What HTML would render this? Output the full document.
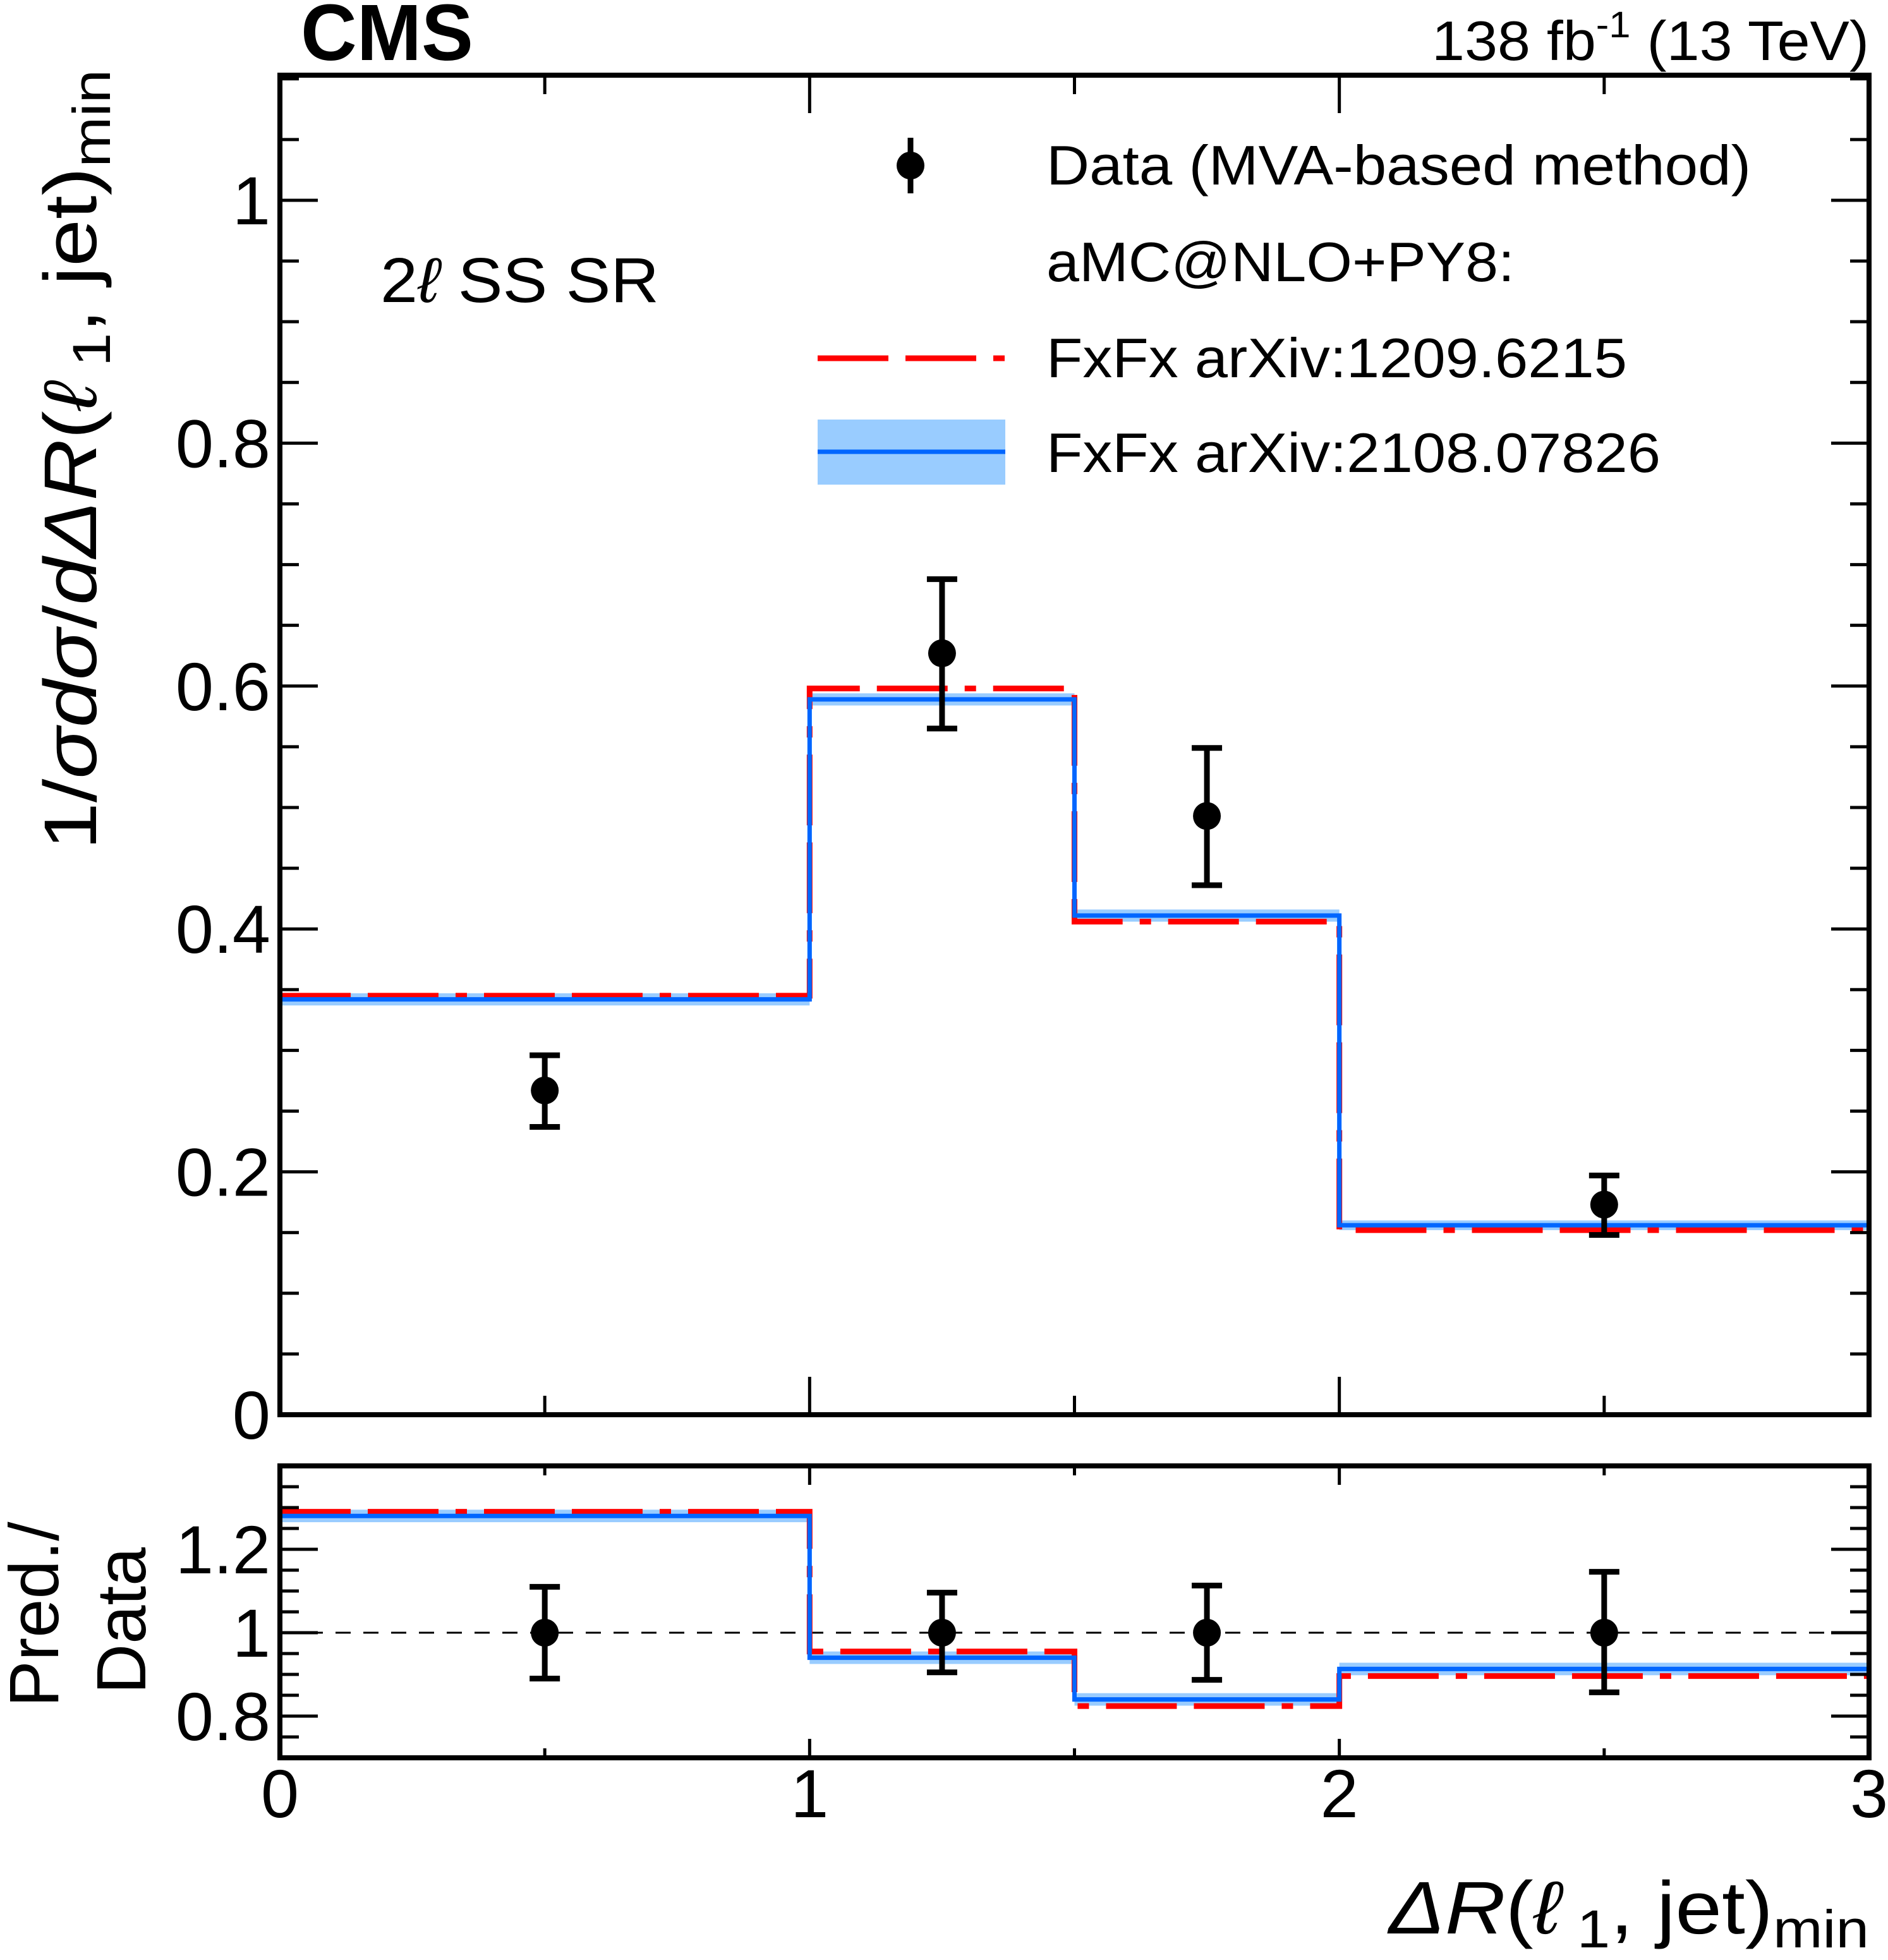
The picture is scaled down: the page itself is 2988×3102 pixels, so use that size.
<!DOCTYPE html>
<html><head><meta charset="utf-8">
<style>
html,body{margin:0;padding:0;background:#fff;}
svg{display:block;}
text{font-family:"Liberation Sans",Arial,sans-serif;fill:#000;}
</style></head>
<body>
<svg id="chart" width="2988" height="3102" viewBox="0 0 2988 3102" xmlns="http://www.w3.org/2000/svg">
<g id="plot"></g>
</svg>
<script>
// ---- data ----
const binEdges = [0, 1, 1.5, 2, 3];
const dataValues = [0.267, 0.627, 0.493, 0.173];
const dataErrUp = [0.029, 0.061, 0.056, 0.024];
const dataErrDown = [0.030, 0.062, 0.057, 0.025];
const redValues = [0.345, 0.598, 0.406, 0.152];
const blueValues = [0.342, 0.589, 0.411, 0.156];
const blueBand = [0.005, 0.005, 0.005, 0.004];
const ratioErrUp = [0.11, 0.096, 0.113, 0.146];
const ratioErrDown = [0.11, 0.095, 0.113, 0.143];
const redRatio = [1.29, 0.955, 0.824, 0.896];
const blueRatio = [1.28, 0.94, 0.84, 0.913];
const blueRatioBand = [0.015, 0.015, 0.015, 0.015];
const xTickLabels = ["0", "1", "2", "3"];
const yTickLabels = ["0", "0.2", "0.4", "0.6", "0.8", "1"];
const rTickLabels = ["0.8", "1", "1.2"];

// ---- geometry ----
const L = 443, R = 2958;
const MT = 119, MB = 2239, RT = 2320, RB = 2782;
const yMax = 1.103, rMin = 0.7, rMax = 1.4;
const NS = "http://www.w3.org/2000/svg";
const g = document.getElementById('plot');
function X(v){ return L + (R - L) * v / 3; }
function Y(v){ return MB - (MB - MT) * v / yMax; }
function YR(v){ return RB - (RB - RT) * (v - rMin) / (rMax - rMin); }
function mk(tag, attrs, parent){
  const e = document.createElementNS(NS, tag);
  for (const k in attrs) e.setAttribute(k, attrs[k]);
  (parent || g).appendChild(e);
  return e;
}
function stepPath(vals, yf){
  let d = '';
  for (let i = 0; i < vals.length; i++){
    const y = yf(vals[i]);
    d += (i === 0 ? 'M' : 'L') + X(binEdges[i]) + ',' + y + 'L' + X(binEdges[i+1]) + ',' + y;
  }
  return d;
}
const redDash = "112,27,112,27,18,27";

function drawPanel(yf, vals, red, blue, band, errU, errD, isRatio){
  for (let i = 0; i < blue.length; i++){
    const r = mk('rect', {x: X(binEdges[i]), y: yf(blue[i] + band[i]), width: X(binEdges[i+1]) - X(binEdges[i]), height: Math.max(8, yf(blue[i] - band[i]) - yf(blue[i] + band[i])), fill: '#99ccff'});
    
    
  }
  const rp = mk('path', {d: stepPath(red, yf), fill: 'none', stroke: '#ff0000', 'stroke-width': 9, 'stroke-dasharray': redDash});
  
  
  const bp = mk('path', {d: stepPath(blue, yf), fill: 'none', stroke: '#0066ff', 'stroke-width': 7});
  
  
  for (let i = 0; i < vals.length; i++){
    const cx = X((binEdges[i] + binEdges[i+1]) / 2);
    const grp = mk('g', {});
    
    
    const yu = yf(vals[i] + errU[i]), yd = yf(vals[i] - errD[i]);
    mk('line', {x1: cx, x2: cx, y1: yu, y2: yd, stroke: '#000', 'stroke-width': 9}, grp);
    mk('line', {x1: cx - 24, x2: cx + 24, y1: yu, y2: yu, stroke: '#000', 'stroke-width': 9}, grp);
    mk('line', {x1: cx - 24, x2: cx + 24, y1: yd, y2: yd, stroke: '#000', 'stroke-width': 9}, grp);
    mk('circle', {cx: cx, cy: yf(vals[i]), r: 22, fill: '#000'}, grp);
  }
}

drawPanel(Y, dataValues, redValues, blueValues, blueBand, dataErrUp, dataErrDown, false);
const refl = mk('line', {x1: L, x2: R, y1: YR(1), y2: YR(1), stroke: '#000', 'stroke-width': 3, 'stroke-dasharray': '24,20'});


const ones = dataValues.map(() => 1);
drawPanel(YR, ones, redRatio, blueRatio, blueRatioBand, ratioErrUp, ratioErrDown, true);

function frame(top, bot, name){
  const f = mk('rect', {x: L, y: top, width: R - L, height: bot - top, fill: 'none', stroke: '#000', 'stroke-width': 8});
  
  
}
frame(MT, MB, 'main-frame');
frame(RT, RB, 'ratio-frame');

const tk = mk('g', {stroke: '#000', 'stroke-width': 5});


for (let v = 0; v <= 3.0001; v += 0.5){
  const major = Math.abs(v - Math.round(v)) < 1e-6;
  const len = major ? 60 : 30, lenR = major ? 30 : 15;
  const x = X(v);
  mk('line', {x1: x, x2: x, y1: MB, y2: MB - len}, tk);
  mk('line', {x1: x, x2: x, y1: MT, y2: MT + len}, tk);
  mk('line', {x1: x, x2: x, y1: RB, y2: RB - lenR}, tk);
  mk('line', {x1: x, x2: x, y1: RT, y2: RT + lenR}, tk);
}
for (let i = 0; i * 0.05 <= yMax; i++){
  const v = i * 0.05, y = Y(v), len = (i % 4 === 0) ? 60 : 30;
  mk('line', {x1: L, x2: L + len, y1: y, y2: y}, tk);
  mk('line', {x1: R, x2: R - len, y1: y, y2: y}, tk);
}
for (let i = 15; i * 0.05 < rMax - 1e-6; i++){
  const v = i * 0.05, y = YR(v), len = (i % 4 === 0) ? 60 : 30;
  mk('line', {x1: L, x2: L + len, y1: y, y2: y}, tk);
  mk('line', {x1: R, x2: R - len, y1: y, y2: y}, tk);
}

function txt(s, attrs, name){
  const t = mk('text', attrs);
  t.textContent = s;
  
  
  return t;
}
xTickLabels.forEach((s, i) => txt(s, {x: X(+s), y: 2876, 'font-size': 108, 'text-anchor': 'middle'}, 'x-tick-label-' + s));
yTickLabels.forEach(s => txt(s, {x: 428, y: Y(+s) + 38, 'font-size': 108, 'text-anchor': 'end'}, 'y-tick-label-' + s));
rTickLabels.forEach(s => txt(s, {x: 428, y: YR(+s) + 38, 'font-size': 108, 'text-anchor': 'end'}, 'ratio-tick-label-' + s));
</script>

<svg style="position:absolute;left:0;top:0" width="2988" height="3102" viewBox="0 0 2988 3102" xmlns="http://www.w3.org/2000/svg">
<text x="476" y="95" font-size="126" font-weight="bold" textLength="273" lengthAdjust="spacingAndGlyphs">CMS</text>
<text x="2266" y="95" font-size="88" textLength="692" lengthAdjust="spacingAndGlyphs">138 fb<tspan dy="-36" font-size="58">-1</tspan><tspan dy="36"> (13 TeV)</tspan></text>
<text x="602" y="478" font-size="100" textLength="441" lengthAdjust="spacingAndGlyphs">2<tspan font-style="italic">ℓ</tspan> SS SR</text>
<g>
  <g>
    <line x1="1441" x2="1441" y1="218" y2="306" stroke="#000" stroke-width="9"/>
    <circle cx="1441" cy="262" r="22" fill="#000"/>
    <text x="1656" y="292" font-size="88" textLength="1115" lengthAdjust="spacingAndGlyphs">Data (MVA-based method)</text>
  </g>
  <text x="1656" y="445" font-size="88" textLength="741" lengthAdjust="spacingAndGlyphs">aMC@NLO+PY8:</text>
  <g>
    <line x1="1294" x2="1591" y1="567" y2="567" stroke="#ff0000" stroke-width="9" stroke-dasharray="112,27,112,27,18,27"/>
    <text x="1656" y="597" font-size="88" textLength="919" lengthAdjust="spacingAndGlyphs">FxFx arXiv:1209.6215</text>
  </g>
  <g>
    <rect x="1294" y="664" width="297" height="103" fill="#99ccff"/>
    <line x1="1294" x2="1591" y1="715" y2="715" stroke="#0066ff" stroke-width="7"/>
    <text x="1656" y="747" font-size="88" textLength="972" lengthAdjust="spacingAndGlyphs">FxFx arXiv:2108.07826</text>
  </g>
</g>
<text transform="translate(152,1345) rotate(-90)" font-size="118" textLength="1235" lengthAdjust="spacingAndGlyphs">1/<tspan font-style="italic">σdσ</tspan>/<tspan font-style="italic">d</tspan><tspan font-style="italic">ΔR</tspan>(<tspan font-style="italic">ℓ</tspan><tspan dy="22" font-size="84"> 1</tspan><tspan dy="-22">, jet)</tspan><tspan dy="22" font-size="84">min</tspan></text>
<text transform="translate(92,2555) rotate(-90)" font-size="110" text-anchor="middle">Pred./</text>
<text transform="translate(230,2565) rotate(-90)" font-size="110" text-anchor="middle">Data</text>
<text x="2198" y="3060" font-size="118" textLength="760" lengthAdjust="spacingAndGlyphs"><tspan font-style="italic">ΔR</tspan>(<tspan font-style="italic">ℓ</tspan><tspan dy="22" font-size="84"> 1</tspan><tspan dy="-22">, jet)</tspan><tspan dy="22" font-size="84">min</tspan></text>
</svg>
</body></html>
